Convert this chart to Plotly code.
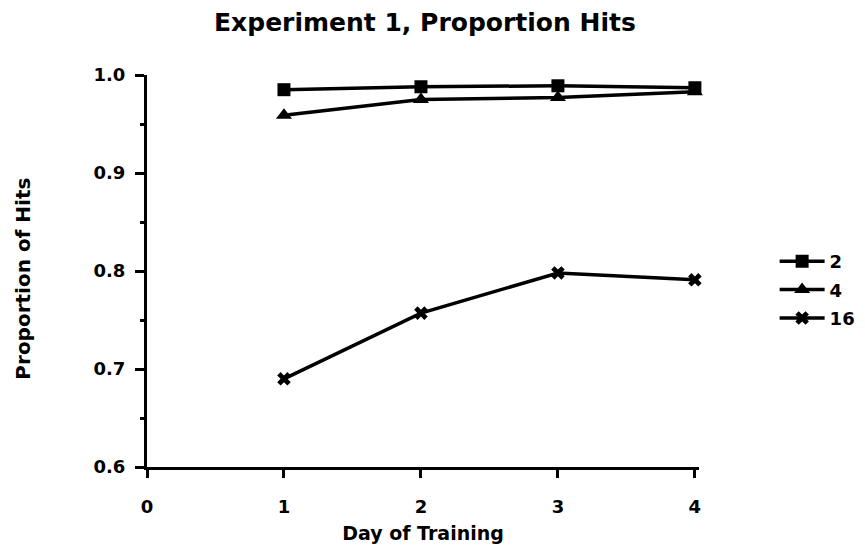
import plotly.graph_objects as go

days = [1, 2, 3, 4]
set2 = [0.985, 0.988, 0.989, 0.987]
set4 = [0.959, 0.975, 0.977, 0.983]
set16 = [0.690, 0.757, 0.798, 0.791]
series_names = ["2", "4", "16"]
x_ticks = [0, 1, 2, 3, 4]
y_ticks = [0.6, 0.7, 0.8, 0.9, 1.0]

FONT = "DejaVu Sans, Verdana, sans-serif"

fig = go.Figure()
for name, vals, sym, size in [
    (series_names[0], set2, "square", 13),
    (series_names[1], set4, "triangle-up", 14),
    (series_names[2], set16, "x", 12),
]:
    fig.add_trace(go.Scatter(
        x=days, y=vals, name=name, mode="lines+markers", legendgroup=name,
        line=dict(color="black", width=3.5),
        marker=dict(symbol=sym, size=size, color="black"),
        cliponaxis=False,
    ))

fig.update_layout(
    width=865, height=557,
    paper_bgcolor="white", plot_bgcolor="white",
    margin=dict(l=139, r=171, t=67, b=98),
    font=dict(family=FONT, color="black", size=18, weight="bold"),
    title=dict(text="Experiment 1, Proportion Hits", x=0.482, xanchor="center",
               y=0.975, yanchor="middle",
               font=dict(family=FONT, size=25, weight="bold", color="black")),
    legend=dict(x=1.137, xanchor="left", y=0.4515, yanchor="middle",
                font=dict(family=FONT, size=18, weight="bold"),
                itemwidth=45, tracegroupgap=2, bgcolor="rgba(0,0,0,0)"),
    xaxis=dict(
        range=[0, 4.03], tickvals=x_ticks, ticktext=[str(v) for v in x_ticks],
        showline=True, linecolor="black", linewidth=3,
        ticks="outside", ticklen=8, tickwidth=2.5, tickcolor="black",
        ticklabelstandoff=13,
        showgrid=False, zeroline=False, automargin=False,
        tickfont=dict(family=FONT, size=18, weight="bold"),
        title=dict(text="Day of Training", standoff=12,
                   font=dict(family=FONT, size=19, weight="bold")),
    ),
    yaxis=dict(
        range=[0.6, 1.0], tickvals=y_ticks, ticktext=["%.1f" % v for v in y_ticks],
        showline=True, linecolor="black", linewidth=3,
        ticks="outside", ticklen=9, tickwidth=2.5, tickcolor="black",
        ticklabelstandoff=6,
        minor=dict(ticks="outside", ticklen=4, tickwidth=2.5, tickcolor="black",
                   dtick=0.05, showgrid=False),
        showgrid=False, zeroline=False, automargin=False,
        tickfont=dict(family=FONT, size=18, weight="bold"),
    ),
    annotations=[dict(
        text="Proportion of Hits", textangle=-90, showarrow=False,
        xref="paper", yref="paper", x=-0.225, y=0.48,
        xanchor="center", yanchor="middle",
        font=dict(family=FONT, size=20, weight="bold", color="black"),
    )],
)

fig.write_html("out.html")
